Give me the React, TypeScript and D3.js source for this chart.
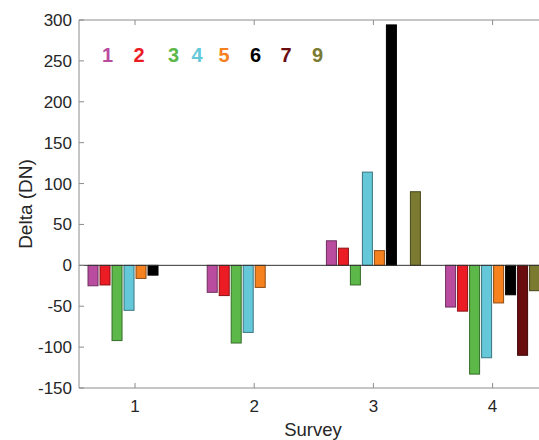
import { useEffect, useRef } from "react"
import * as d3 from "d3"

// survey numbers on the x axis
const surveys = [1, 2, 3, 4]

// one series per sensor; null = no bar
const seriesNames = ["1", "2", "3", "4", "5", "6", "7", "9"]
const seriesColors = ["#b94c9f", "#ec1c24", "#5cb848", "#64c8d9", "#f5821f", "#000000", "#6a0d0f", "#7a7a30"]

const s1 = [-25, -33, 30, -51]
const s2 = [-24, -37, 21, -56]
const s3 = [-92, -95, -24, -133]
const s4 = [-55, -82, 114, -113]
const s5 = [-16, -27, 18, -46]
const s6 = [-12, null, 294, -36]
const s7 = [null, null, null, -110]
const s9 = [null, null, 90, -31]
const seriesValues = [s1, s2, s3, s4, s5, s6, s7, s9]

const yTicks = [-150, -100, -50, 0, 50, 100, 150, 200, 250, 300]

// legend label x positions (they sit loosely above the plot)
const legendX = [107.5, 139, 173.5, 197, 224, 255.5, 286, 317.5]

export default function App() {
  const svgRef = useRef(null)

  useEffect(() => {
    const svg = d3.select(svgRef.current)
    svg.selectAll("*").remove()

    const left = 79
    const right = 551
    const top = 20
    const bottom = 388

    const x = d3.scaleLinear().domain([0.53, 4.49]).range([left, right])
    const y = d3.scaleLinear().domain([-150, 300]).range([bottom, top])
    const offset = d3.scaleBand().domain(seriesNames).range([-48, 48])

    const axisColor = "#8c8c8c"
    const textColor = "#262626"
    const font = "Liberation Sans, Arial, sans-serif"

    // bars
    seriesValues.forEach((vals, i) => {
      const color = seriesColors[i]
      const edge = d3.color(color).darker(1.5).formatHex()
      svg
        .append("g")
        .selectAll("rect")
        .data(vals.map((v, j) => ({ v, s: surveys[j] })).filter((d) => d.v !== null))
        .enter()
        .append("rect")
        .attr("x", (d) => x(d.s) + offset(seriesNames[i]) + 1)
        .attr("width", offset.bandwidth() - 2)
        .attr("y", (d) => Math.min(y(d.v), y(0)))
        .attr("height", (d) => Math.abs(y(d.v) - y(0)))
        .attr("fill", color)
        .attr("stroke", i === 5 ? "#000" : edge)
        .attr("stroke-width", 1)
    })

    // zero baseline
    svg
      .append("line")
      .attr("x1", left)
      .attr("x2", right)
      .attr("y1", y(0))
      .attr("y2", y(0))
      .attr("stroke", "#333")
      .attr("stroke-width", 1)

    // axes box (left, top, bottom)
    svg
      .append("path")
      .attr("d", `M${right},${top}H${left}V${bottom}H${right}`)
      .attr("fill", "none")
      .attr("stroke", axisColor)
      .attr("stroke-width", 1)

    // y ticks and labels
    yTicks.forEach((t) => {
      svg
        .append("line")
        .attr("x1", left)
        .attr("x2", left + 5)
        .attr("y1", y(t))
        .attr("y2", y(t))
        .attr("stroke", axisColor)
      svg
        .append("text")
        .attr("x", left - 7)
        .attr("y", y(t))
        .attr("dy", "0.35em")
        .attr("text-anchor", "end")
        .attr("font-family", font)
        .attr("font-size", 17)
        .attr("fill", textColor)
        .text(t)
    })

    // x ticks (top and bottom) and labels
    surveys.forEach((s) => {
      svg
        .append("line")
        .attr("x1", x(s))
        .attr("x2", x(s))
        .attr("y1", bottom)
        .attr("y2", bottom - 5)
        .attr("stroke", axisColor)
      svg
        .append("line")
        .attr("x1", x(s))
        .attr("x2", x(s))
        .attr("y1", top)
        .attr("y2", top + 5)
        .attr("stroke", axisColor)
      svg
        .append("text")
        .attr("x", x(s))
        .attr("y", 412)
        .attr("text-anchor", "middle")
        .attr("font-family", font)
        .attr("font-size", 17)
        .attr("fill", textColor)
        .text(s)
    })

    // axis titles
    svg
      .append("text")
      .attr("transform", `translate(32,${(top + bottom) / 2}) rotate(-90)`)
      .attr("text-anchor", "middle")
      .attr("font-family", font)
      .attr("font-size", 19)
      .attr("fill", textColor)
      .text("Delta (DN)")

    svg
      .append("text")
      .attr("x", 313)
      .attr("y", 436)
      .attr("text-anchor", "middle")
      .attr("font-family", font)
      .attr("font-size", 18.5)
      .attr("fill", textColor)
      .text("Survey")

    // series labels
    seriesNames.forEach((n, i) => {
      svg
        .append("text")
        .attr("x", legendX[i])
        .attr("y", 62)
        .attr("text-anchor", "middle")
        .attr("font-family", font)
        .attr("font-size", 20)
        .attr("font-weight", "bold")
        .attr("fill", seriesColors[i])
        .text(n)
    })
  }, [])

  return (
    <svg
      ref={svgRef}
      width={539}
      height={440}
      style={{ position: "absolute", left: 0, top: 0, background: "#fff" }}
    />
  )
}
